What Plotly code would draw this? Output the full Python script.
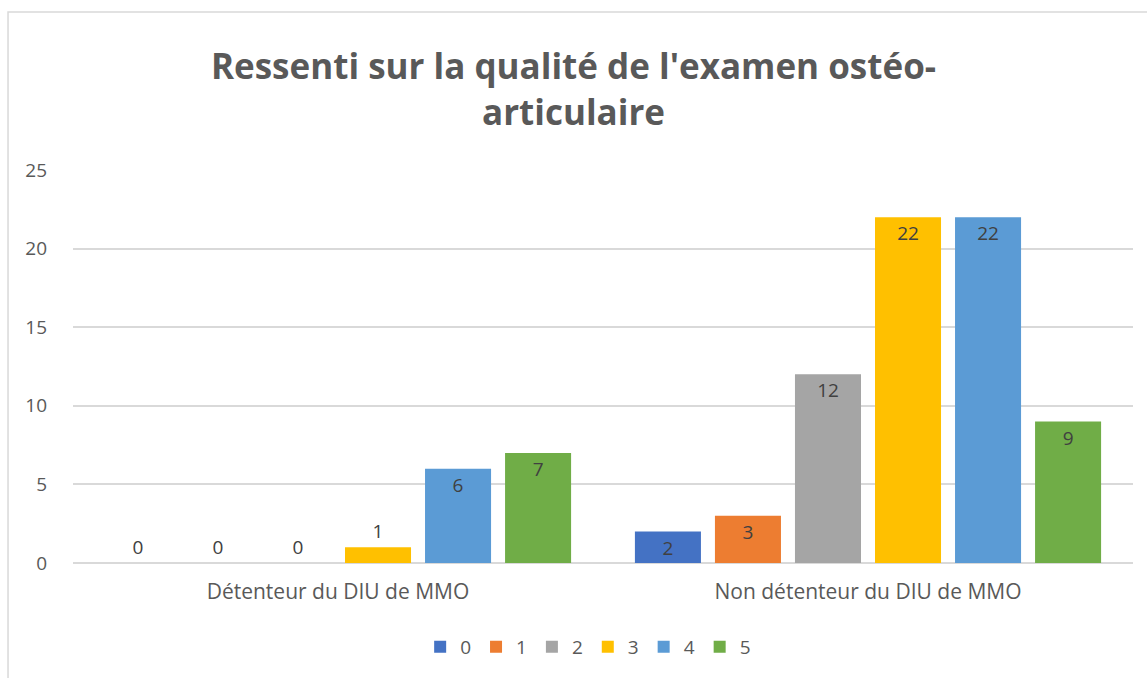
import plotly.graph_objects as go

categories = ["Détenteur du DIU de MMO", "Non détenteur du DIU de MMO"]
series_names = ["0", "1", "2", "3", "4", "5"]
values_0 = [0, 2]
values_1 = [0, 3]
values_2 = [0, 12]
values_3 = [1, 22]
values_4 = [6, 22]
values_5 = [7, 9]

all_values = [values_0, values_1, values_2, values_3, values_4, values_5]
colors = ["#4472C4", "#ED7D31", "#A5A5A5", "#FFC000", "#5B9BD5", "#70AD47"]

FONT = "Open Sans"
GREY = "#595959"
TXT = 19

fig = go.Figure()

for name, vals, col in zip(series_names, all_values, colors):
    # bars too short for their label get it on top, like Excel does
    pos = ["inside" if v >= 2 else "outside" for v in vals]
    fig.add_trace(go.Bar(
        x=categories,
        y=vals,
        name=name,
        marker=dict(color=col, line=dict(width=0)),
        text=[str(v) for v in vals],
        textposition=pos,
        insidetextanchor="end",
        textangle=0,
        textfont=dict(family=FONT, size=TXT, color="#404040"),
        cliponaxis=False,
    ))

fig.update_layout(
    width=1147,
    height=678,
    barmode="group",
    bargap=0.094,
    bargroupgap=0.175,
    paper_bgcolor="white",
    plot_bgcolor="white",
    margin=dict(l=73, r=14, t=170, b=115),
    uniformtext=dict(minsize=TXT, mode="show"),
    title=dict(
        text="Ressenti sur la qualité de l'examen ostéo-<br>articulaire",
        x=0.5,
        xanchor="center",
        y=0.883,
        yanchor="middle",
        font=dict(family=FONT, size=35, color=GREY, weight="bold"),
    ),
    font=dict(family=FONT, size=TXT, color=GREY),
    xaxis=dict(
        showgrid=False,
        showline=False,
        ticks="",
        ticklabelstandoff=14,
        tickfont=dict(size=21, color=GREY),
    ),
    yaxis=dict(
        range=[0, 25],
        dtick=5,
        showgrid=True,
        gridcolor="#D9D9D9",
        gridwidth=1.5,
        zeroline=True,
        zerolinecolor="#D9D9D9",
        zerolinewidth=1.5,
        showline=False,
        ticks="",
        ticklabelstandoff=25,
        tickfont=dict(size=TXT, color=GREY),
    ),
    legend=dict(
        orientation="h",
        x=0.486,
        xanchor="center",
        y=-0.165,
        yanchor="top",
        font=dict(size=TXT, color=GREY),
        itemwidth=30,
        tracegroupgap=0,
    ),
    shapes=[dict(
        type="rect",
        xref="paper",
        yref="paper",
        x0=-0.0613,
        x1=1.05,
        y0=-0.5,
        y1=1.402,
        line=dict(color="#D9D9D9", width=1.5),
        fillcolor="rgba(0,0,0,0)",
        layer="below",
    )],
)

# the browser's default 8px body margin would shift the whole chart
fig.write_html(
    "out.html",
    config={"displayModeBar": False},
    post_script="document.body.style.margin='0';",
)
